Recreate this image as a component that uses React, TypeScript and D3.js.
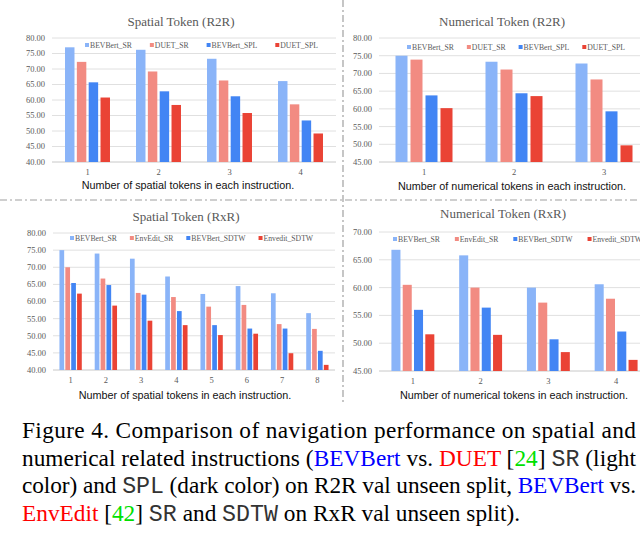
import React, { useRef, useEffect } from 'react';
import * as d3 from 'd3';

// ---- data ----
const r2rSpatialCats = ['1', '2', '3', '4'];
const r2rSpatialBEVBertSR = [77.0, 76.2, 73.3, 66.1];
const r2rSpatialDUETSR = [72.3, 69.2, 66.3, 58.6];
const r2rSpatialBEVBertSPL = [65.7, 62.8, 61.2, 53.4];
const r2rSpatialDUETSPL = [60.8, 58.4, 55.8, 49.2];

const r2rNumericalCats = ['1', '2', '3'];
const r2rNumericalBEVBertSR = [75.0, 73.3, 72.8];
const r2rNumericalDUETSR = [73.9, 71.1, 68.3];
const r2rNumericalBEVBertSPL = [63.8, 64.4, 59.3];
const r2rNumericalDUETSPL = [60.2, 63.6, 49.7];

const rxrSpatialCats = ['1', '2', '3', '4', '5', '6', '7', '8'];
const rxrSpatialBEVBertSR = [75.0, 74.0, 72.5, 67.3, 62.2, 64.5, 62.4, 56.6];
const rxrSpatialEnvEditSR = [70.0, 66.7, 62.5, 61.3, 58.5, 59.0, 53.4, 52.0];
const rxrSpatialBEVBertSDTW = [65.4, 64.8, 62.0, 57.2, 53.1, 52.1, 52.1, 45.6];
const rxrSpatialEnvEditSDTW = [62.3, 58.8, 54.4, 53.1, 50.2, 50.6, 44.9, 41.5];

const rxrNumericalCats = ['1', '2', '3', '4'];
const rxrNumericalBEVBertSR = [66.8, 65.8, 60.0, 60.6];
const rxrNumericalEnvEditSR = [60.5, 60.0, 57.3, 58.0];
const rxrNumericalBEVBertSDTW = [56.0, 56.4, 50.7, 52.1];
const rxrNumericalEnvEditSDTW = [51.6, 51.5, 48.4, 47.0];

const r2rKeys = ['BEVBert_SR', 'DUET_SR', 'BEVBert_SPL', 'DUET_SPL'];
const rxrKeys = ['BEVBert_SR', 'EnvEdit_SR', 'BEVBert_SDTW', 'Envedit_SDTW'];
const colors = ['#8ab4f8', '#f28b82', '#4285f4', '#ea4335'];

const panels = [
  {
    title: 'Spatial Token (R2R)', xTitle: 'Number of spatial tokens in each instruction.',
    cats: r2rSpatialCats, keys: r2rKeys,
    series: [r2rSpatialBEVBertSR, r2rSpatialDUETSR, r2rSpatialBEVBertSPL, r2rSpatialDUETSPL],
    yMin: 40, yMax: 80,
    x0: 52, x1: 336, y0: 38, y1: 162, titleX: 181, titleY: 21, legX: 85, legY: 45, legGap: 18, xtX: 188, xtY: 185,
  },
  {
    title: 'Numerical Token (R2R)', xTitle: 'Number of numerical tokens in each instruction.',
    cats: r2rNumericalCats, keys: r2rKeys,
    series: [r2rNumericalBEVBertSR, r2rNumericalDUETSR, r2rNumericalBEVBertSPL, r2rNumericalDUETSPL],
    yMin: 45, yMax: 80,
    x0: 379, x1: 649, y0: 38, y1: 162, titleX: 502, titleY: 21, legX: 407, legY: 47, legGap: 13, xtX: 512, xtY: 186,
  },
  {
    title: 'Spatial Token (RxR)', xTitle: 'Number of spatial tokens in each instruction.',
    cats: rxrSpatialCats, keys: rxrKeys,
    series: [rxrSpatialBEVBertSR, rxrSpatialEnvEditSR, rxrSpatialBEVBertSDTW, rxrSpatialEnvEditSDTW],
    yMin: 40, yMax: 80,
    x0: 53, x1: 335, y0: 233, y1: 370, titleX: 186, titleY: 216, legX: 70, legY: 238, legGap: 13, xtX: 185, xtY: 395,
  },
  {
    title: 'Numerical Token (RxR)', xTitle: 'Number of numerical tokens in each instruction.',
    cats: rxrNumericalCats, keys: rxrKeys,
    series: [rxrNumericalBEVBertSR, rxrNumericalEnvEditSR, rxrNumericalBEVBertSDTW, rxrNumericalEnvEditSDTW],
    yMin: 45, yMax: 70,
    x0: 379, x1: 650, y0: 232, y1: 371, titleX: 503, titleY: 213, legX: 393, legY: 239, legGap: 15, xtX: 514, xtY: 395,
  },
];

const SERIF = "'Liberation Serif', 'DejaVu Serif', serif";
const SANS = "'Liberation Sans', Arial, sans-serif";
const MONO = "'Liberation Mono', 'DejaVu Sans Mono', monospace";
const GREY = '#595959';

const App = () => {
  const ref = useRef(null);

  useEffect(() => {
    const svg = d3.select(ref.current);
    svg.selectAll('*').remove();

    panels.forEach(p => {
      const g = svg.append('g');
      const y = d3.scaleLinear().domain([p.yMin, p.yMax]).range([p.y1, p.y0]);
      const xc = d3.scaleBand().domain(p.cats).range([p.x0, p.x1]).paddingInner(0.3).paddingOuter(0.15);
      const xs = d3.scaleBand().domain(p.keys).range([0, xc.bandwidth()]).padding(0.2);

      // gridlines + tick labels
      const ticks = d3.range(p.yMin, p.yMax + 0.01, 5);
      g.selectAll('line.grid').data(ticks).join('line')
        .attr('x1', p.x0).attr('x2', p.x1)
        .attr('y1', d => y(d)).attr('y2', d => y(d))
        .attr('stroke', d => (d === p.yMin ? '#c8c8c8' : '#e0e0e0')).attr('stroke-width', 1);
      g.selectAll('text.ytick').data(ticks).join('text')
        .attr('x', p.x0 - 7).attr('y', d => y(d)).attr('dy', '0.35em')
        .attr('text-anchor', 'end').attr('font-family', SERIF).attr('font-size', 8.5).attr('fill', GREY)
        .text(d => d3.format('.2f')(d));

      // bars
      p.keys.forEach((k, si) => {
        g.selectAll(`rect.s${si}`).data(p.series[si]).join('rect')
          .attr('x', (d, i) => xc(p.cats[i]) + xs(k))
          .attr('width', xs.bandwidth())
          .attr('y', d => y(d))
          .attr('height', d => y(p.yMin) - y(d))
          .attr('fill', colors[si]);
      });

      // category labels
      g.selectAll('text.xtick').data(p.cats).join('text')
        .attr('x', d => xc(d) + xc.bandwidth() / 2).attr('y', p.y1 + 10).attr('dy', '0.35em')
        .attr('text-anchor', 'middle').attr('font-family', SERIF).attr('font-size', 8.5).attr('fill', GREY)
        .text(d => d);

      // title
      g.append('text').attr('x', p.titleX).attr('y', p.titleY).attr('dy', '0.35em')
        .attr('text-anchor', 'middle').attr('font-family', SERIF).attr('font-size', 13).attr('fill', GREY)
        .text(p.title);

      // axis title
      g.append('text').attr('x', p.xtX).attr('y', p.xtY).attr('dy', '0.35em')
        .attr('text-anchor', 'middle').attr('font-family', SANS).attr('font-size', 10.8).attr('fill', '#111')
        .text(p.xTitle);

      // legend
      let lx = p.legX;
      p.keys.forEach((k, si) => {
        g.append('rect').attr('x', lx).attr('y', p.legY - 2).attr('width', 4).attr('height', 4).attr('fill', colors[si]);
        const t = g.append('text').attr('x', lx + 5).attr('y', p.legY).attr('dy', '0.35em')
          .attr('font-family', SERIF).attr('font-size', 7.7).attr('fill', GREY).text(k);
        const w = (t.node() as SVGTextElement).getComputedTextLength();
        lx += 5 + w + p.legGap;
      });
    });

    // dash-dot dividers
    svg.append('line').attr('x1', 0).attr('x2', 640).attr('y1', 200).attr('y2', 200)
      .attr('stroke', '#a0a0a0').attr('stroke-width', 1.2).attr('stroke-dasharray', '7,3,2,3');
    svg.append('line').attr('x1', 343).attr('x2', 343).attr('y1', 0).attr('y2', 405)
      .attr('stroke', '#a0a0a0').attr('stroke-width', 1.2).attr('stroke-dasharray', '7,3,2,3');
  }, []);

  const cap = { fontFamily: SERIF, fontSize: 23.3, fill: '#000' } as const;
  const mono = { fontFamily: MONO, fill: '#333' } as const;
  const blue = '#0000ff';
  const red = '#ff0000';
  const green = '#00e000';

  return (
    <svg width={640} height={536} style={{ position: 'absolute', left: 0, top: 0, background: '#fff' }}>
      <g ref={ref} />
      <text x={22} y={438} textLength={614} lengthAdjust="spacing" style={cap}>
        Figure 4. Comparison of navigation performance on spatial and
      </text>
      <text x={22} y={466} textLength={614} lengthAdjust="spacing" style={cap}>
        numerical related instructions (<tspan fill={blue}>BEVBert</tspan> vs. <tspan fill={red}>DUET</tspan> [<tspan fill={green}>24</tspan>] <tspan style={mono}>SR</tspan> (light
      </text>
      <text x={22} y={493} textLength={614} lengthAdjust="spacing" style={cap}>
        color) and <tspan style={mono}>SPL</tspan> (dark color) on R2R val unseen split, <tspan fill={blue}>BEVBert</tspan> vs.
      </text>
      <text x={22} y={521} style={cap}>
        <tspan fill={red}>EnvEdit</tspan> [<tspan fill={green}>42</tspan>] <tspan style={mono}>SR</tspan> and <tspan style={mono}>SDTW</tspan> on RxR val unseen split).
      </text>
    </svg>
  );
};

export default App;
